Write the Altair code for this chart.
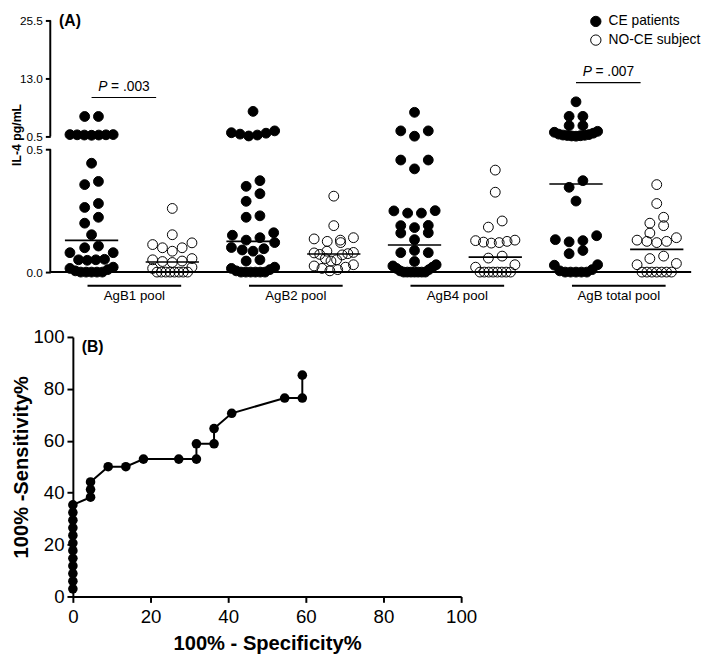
import altair as alt
import pandas as pd

# ---------------- data ----------------
groups = ["AgB1 pool", "AgB2 pool", "AgB4 pool", "AgB total pool"]
series = ["CE patients", "NO-CE subject"]

agb1_ce = [4.8, 4.8, 0.9, 0.9, 0.85, 0.85, 0.8, 0.8, 0.75,
           0.443, 0.369, 0.356, 0.279, 0.263, 0.223, 0.199, 0.152, 0.106,
           0.099, 0.079, 0.079, 0.052, 0.05, 0.05, 0.048,
           0.02, 0.015, 0.01, 0.005, 0, 0, 0, 0, 0]
agb1_noce = [0.259, 0.152, 0.119, 0.112, 0.099, 0.099, 0.085, 0.055, 0.05, 0.045,
             0.043, 0.039, 0.02, 0.015, 0, 0, 0, 0, 0, 0, 0, 0]
agb2_ce = [5.9, 1.7, 1.3, 1.2, 1.0, 0.8, 0.6,
           0.372, 0.349, 0.319, 0.288, 0.229, 0.223,
           0.16, 0.15, 0.14, 0.13, 0.12,
           0.1, 0.095, 0.09, 0.085, 0.05, 0.045,
           0.02, 0.015, 0.01, 0.005, 0, 0, 0, 0, 0, 0]
agb2_noce = [0.309, 0.189, 0.14, 0.135, 0.13, 0.125, 0.12, 0.085, 0.08, 0.078,
             0.075, 0.072, 0.07, 0.055, 0.05, 0.045, 0.03, 0.025, 0.02, 0.015, 0.01, 0.005]
agb4_ce = [5.7, 1.7, 1.7, 0.55,
           0.456, 0.456, 0.42,
           0.25, 0.249, 0.24, 0.24,
           0.19, 0.189, 0.181, 0.16, 0.159,
           0.132, 0.088, 0.079, 0.079, 0.043,
           0.03, 0.025, 0.02, 0.015, 0.01, 0.005, 0, 0, 0, 0, 0, 0, 0]
agb4_noce = [0.415, 0.325, 0.208, 0.183, 0.13, 0.128, 0.125, 0.122, 0.12, 0.118,
             0.065, 0.057, 0.03, 0.02, 0, 0, 0, 0, 0, 0, 0, 0]
agbt_ce = [7.96, 4.83, 4.83, 2.83, 2.83,
           1.6, 1.4, 1.2, 1.0, 0.9, 0.8, 0.75, 0.7, 0.65, 0.6, 0.55,
           0.372, 0.345, 0.289,
           0.148, 0.132, 0.128, 0.123, 0.088, 0.075,
           0.03, 0.028, 0.01, 0.005, 0, 0, 0, 0, 0]
agbt_noce = [0.356, 0.279, 0.223, 0.199, 0.189, 0.159, 0.14, 0.13, 0.125, 0.125,
             0.12, 0.065, 0.055, 0.035, 0.03, 0, 0, 0, 0, 0, 0, 0]

values_by_group = [(agb1_ce, agb1_noce), (agb2_ce, agb2_noce),
                   (agb4_ce, agb4_noce), (agbt_ce, agbt_noce)]

y_tick_values = [0.0, 0.5, 0.5, 13.0, 25.5]
y_tick_labels = ["0.0", "0.5", "0.5", "13.0", "25.5"]

p_groups = ["AgB1 pool", "AgB total pool"]
p_texts = ["= .003", "= .007"]
p_heights = [8.9, 12.1]

roc_fpr = [0, 0, 0, 0, 0, 0, 0, 0, 0, 0, 0, 0,
           4.55, 4.55, 4.55, 9.09, 13.64, 18.18, 27.27, 31.82, 31.82,
           36.36, 36.36, 40.91, 54.55, 59.09, 59.09]
roc_tpr = [2.94, 5.88, 8.82, 11.76, 14.71, 17.65, 20.59, 23.53, 26.47, 29.41, 32.35, 35.29,
           38.24, 41.18, 44.12, 50.0, 50.0, 52.94, 52.94, 52.94, 58.82,
           58.82, 64.71, 70.59, 76.47, 76.47, 85.29]

# ---------------- layout constants ----------------
FONT = "Liberation Sans"
A_W, A_H = 629, 256
LOW_PX, GAP_PX, TOP_PX = 125, 13, 118
Y_BREAK, Y_TOP = 0.5, 25.5
X_LO, X_HI = 0.7686, 8.4264
PX_PER_SLOT = A_W / (X_HI - X_LO)
AX_OFF = 23
B_W, B_H = 395, 264


def to_disp(v, upper=False):
    if v < Y_BREAK or (v == Y_BREAK and not upper):
        return v / Y_BREAK * LOW_PX
    return LOW_PX + GAP_PX + (v - Y_BREAK) / (Y_TOP - Y_BREAK) * TOP_PX


DISP_EXPR = (f"datum.v <= {Y_BREAK} ? datum.v / {Y_BREAK} * {LOW_PX} : "
             f"{LOW_PX + GAP_PX} + (datum.v - {Y_BREAK}) / {Y_TOP - Y_BREAK} * {TOP_PX}")


def swarm(values, half_px, max_step=14.0, bin_px=9.0):
    order = sorted(range(len(values)), key=lambda i: values[i])
    bins = []
    for i in order:
        y = to_disp(values[i])
        if bins and y - bins[-1][0] <= bin_px:
            bins[-1][1].append(i)
        else:
            bins.append([y, [i]])
    offs = [0.0] * len(values)
    for _, members in bins:
        n = len(members)
        if n == 1:
            continue
        step = min(max_step, 2 * half_px / (n - 1))
        pos = [(j - (n - 1) / 2) * step for j in range(n)]
        pos.sort(key=lambda p: (abs(p), p))
        for p, m in zip(pos, members):
            offs[m] = p / PX_PER_SLOT
    return offs


rows = []
for gi, g in enumerate(groups):
    for si, s in enumerate(series):
        vals = values_by_group[gi][si]
        offs = swarm(vals, 22 if si == 0 else 20)
        for v, o in zip(vals, offs):
            rows.append({"group": g, "series": s, "slot": 2 * gi + si + 1, "v": v, "off": o})
pts_df = pd.DataFrame(rows)

xs = alt.Scale(domain=[X_LO, X_HI], nice=False, zero=False)
ys = alt.Scale(domain=[0, A_H], nice=False, zero=False)

tick_disp = [to_disp(v, upper=(i >= 2)) for i, v in enumerate(y_tick_values)]
lab_expr = f"'{y_tick_labels[-1]}'"
for tv, tl in reversed(list(zip(tick_disp[:-1], y_tick_labels[:-1]))):
    lab_expr = f"abs(datum.value - {tv}) < 0.5 ? '{tl}' : ({lab_expr})"

yaxis = alt.Axis(values=tick_disp, labelExpr=lab_expr, domain=False, grid=False,
                 tickSize=5, tickWidth=2, tickColor="black", labelFontSize=12,
                 labelPadding=3, labelColor="black", labelOverlap=False,
                 offset=AX_OFF, title="IL-4 pg/mL", titleFontSize=12.5,
                 titleFontWeight="bold", titleY=116, titlePadding=5,
                 minExtent=22, maxExtent=22, titleColor="black")

# broken y-axis line
seg_df = pd.DataFrame({"lo": [to_disp(0.0), to_disp(Y_BREAK, upper=True)],
                       "hi": [to_disp(Y_BREAK), to_disp(Y_TOP, upper=True)]})
axis_segs = alt.Chart(seg_df).mark_rule(strokeWidth=2, color="black").encode(
    x=alt.value(-AX_OFF), y=alt.Y("lo:Q", scale=ys, axis=yaxis), y2="hi:Q")

baseline = alt.Chart(pd.DataFrame({"d": [to_disp(0.0)]})).mark_rule(
    strokeWidth=2, color="black").encode(
    x=alt.value(-AX_OFF), x2=alt.value(A_W), y=alt.Y("d:Q", scale=ys, axis=yaxis))

points = alt.Chart(pts_df).transform_calculate(
    d=DISP_EXPR, xp="datum.slot + datum.off"
).mark_circle(size=100, stroke="black", strokeWidth=1, opacity=1).encode(
    x=alt.X("xp:Q", scale=xs, axis=None),
    y=alt.Y("d:Q", scale=ys, axis=yaxis),
    fill=alt.Fill("series:N",
                  scale=alt.Scale(domain=series, range=["black", "transparent"]),
                  legend=alt.Legend(title=None, orient="none", legendX=525, legendY=-6,
                                    labelFontSize=14, labelFont=FONT, labelColor="black",
                                    symbolSize=110, symbolStrokeColor="black",
                                    symbolStrokeWidth=1, symbolType="circle",
                                    rowPadding=3, labelOffset=6, padding=0)),
)

medians = alt.Chart(pts_df).transform_aggregate(
    v="median(v)", groupby=["slot"]
).transform_calculate(
    d=DISP_EXPR, x1="datum.slot - 0.33", x2="datum.slot + 0.33"
).mark_rule(strokeWidth=1.6, color="black").encode(
    x=alt.X("x1:Q", scale=xs, axis=None), x2="x2:Q",
    y=alt.Y("d:Q", scale=ys, axis=yaxis))

grp_df = pd.DataFrame({"group": groups, "gi": list(range(len(groups)))})
grp_base = alt.Chart(grp_df).transform_calculate(
    x1="2 * datum.gi + 1 - 0.05", x2="2 * datum.gi + 2 + 0.11",
    xc="2 * datum.gi + 1.53")
grp_bars = grp_base.mark_rule(strokeWidth=2, color="black").encode(
    x=alt.X("x1:Q", scale=xs, axis=None), x2="x2:Q", y=alt.value(A_H + 14))
grp_labels = grp_base.mark_text(font=FONT, fontSize=13.5, color="black",
                                baseline="middle", align="center").encode(
    x=alt.X("xc:Q", scale=xs, axis=None), y=alt.value(A_H + 24), text="group:N")

p_df = pd.DataFrame({"group": p_groups, "txt": p_texts, "v": p_heights,
                     "gi": [groups.index(g) for g in p_groups]})
p_base = alt.Chart(p_df).transform_calculate(
    d=DISP_EXPR, x1="2 * datum.gi + 1", x2="2 * datum.gi + 1.8", xc="2 * datum.gi + 1.4")
p_rules = p_base.mark_rule(strokeWidth=1.2, color="black").encode(
    x=alt.X("x1:Q", scale=xs, axis=None), x2="x2:Q", y=alt.Y("d:Q", scale=ys, axis=yaxis))
p_italic = p_base.mark_text(font=FONT, fontSize=14, fontStyle="italic", color="black",
                            align="left", baseline="middle", dx=-26, dy=-11).encode(
    x=alt.X("xc:Q", scale=xs, axis=None), y=alt.Y("d:Q", scale=ys, axis=yaxis),
    text=alt.value("P"))
p_rest = p_base.mark_text(font=FONT, fontSize=14, color="black",
                          align="left", baseline="middle", dx=-13, dy=-11).encode(
    x=alt.X("xc:Q", scale=xs, axis=None), y=alt.Y("d:Q", scale=ys, axis=yaxis),
    text="txt:N")

a_label = alt.Chart(pd.DataFrame({"t": ["(A)"]})).mark_text(
    font=FONT, fontSize=16, fontWeight="bold", color="black", align="left",
    baseline="middle").encode(x=alt.value(-14), y=alt.value(1), text="t:N")

panel_a = alt.layer(axis_segs, baseline, medians, points, grp_bars, grp_labels,
                    p_rules, p_italic, p_rest, a_label).properties(width=A_W, height=A_H)

# ---------------- panel B ----------------
roc_df = pd.DataFrame({"fpr": roc_fpr, "tpr": roc_tpr, "k": list(range(len(roc_fpr)))})
xb_axis = alt.Axis(values=[0, 20, 40, 60, 80, 100], title="100% - Specificity%",
                   titleFontSize=20.5, titleFontWeight="bold", titlePadding=8,
                   labelFontSize=19, labelPadding=5, tickSize=6, tickWidth=2,
                   domainWidth=2, labelFlush=False, grid=False)
yb_axis = alt.Axis(values=[0, 20, 40, 60, 80, 100], title="100% -Sensitivity%",
                   titleFontSize=20.5, titleFontWeight="bold", titlePadding=2,
                   labelFontSize=19, labelPadding=3, tickSize=6, tickWidth=2,
                   domainWidth=2, minExtent=40, maxExtent=40, grid=False)
b_base = alt.Chart(roc_df).encode(
    x=alt.X("fpr:Q", scale=alt.Scale(domain=[0, 100], nice=False), axis=xb_axis),
    y=alt.Y("tpr:Q", scale=alt.Scale(domain=[0, 100], nice=False), axis=yb_axis),
    order="k:Q")
b_line = b_base.mark_line(color="black", strokeWidth=2)
b_pts = b_base.mark_circle(size=95, color="black", opacity=1)
b_label = alt.Chart(pd.DataFrame({"t": ["(B)"]})).mark_text(
    font=FONT, fontSize=16, fontWeight="bold", color="black", align="left",
    baseline="middle").encode(x=alt.value(9), y=alt.value(10), text="t:N")
panel_b = alt.layer(b_line, b_pts, b_label).properties(width=B_W, height=B_H)

chart = alt.vconcat(panel_a, panel_b, spacing=26).resolve_scale(
    fill="independent"
).properties(
    padding={"left": 3, "top": 0, "right": 0, "bottom": 2}
).configure_view(stroke=None).configure_axis(
    labelFont=FONT, titleFont=FONT, labelColor="black", titleColor="black",
    domainColor="black", tickColor="black")

chart.save("out.html", embed_options={"renderer": "svg", "actions": False})
